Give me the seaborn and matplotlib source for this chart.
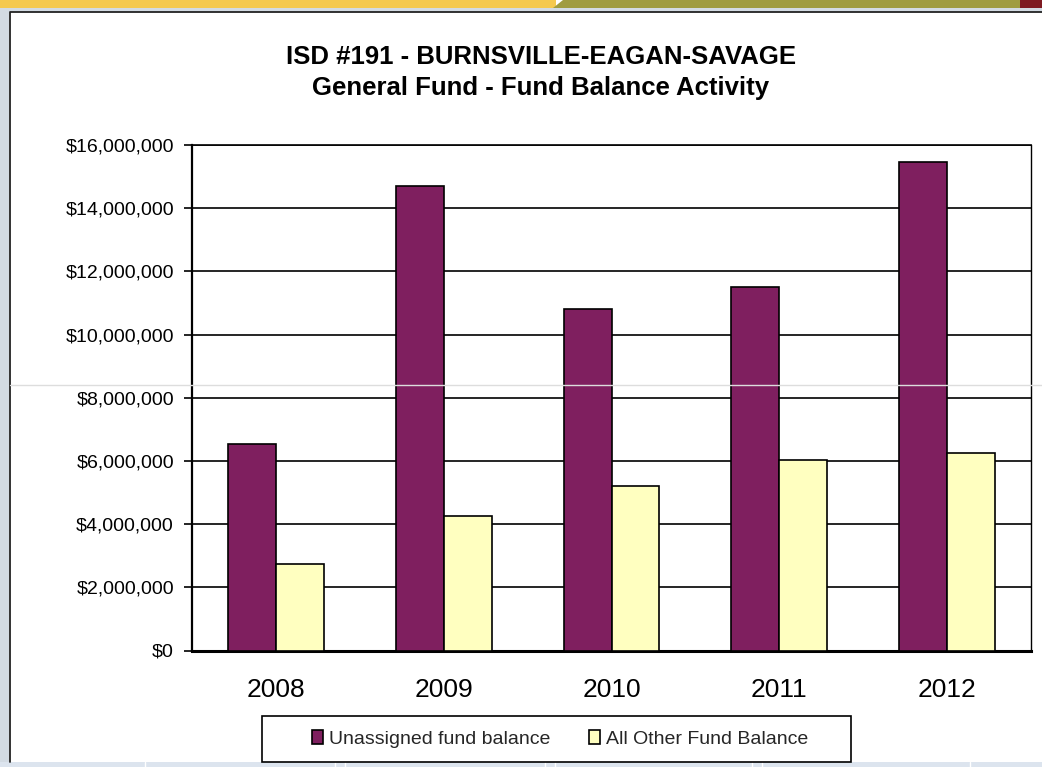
import numpy as np
import pandas as pd
import matplotlib.pyplot as plt
import seaborn as sns
from matplotlib.patches import Rectangle, Polygon, Patch
from matplotlib.lines import Line2D
from matplotlib.ticker import FuncFormatter, FixedLocator

# Data
years = ['2008', '2009', '2010', '2011', '2012']
unassigned = [6.53e6, 14.71e6, 10.81e6, 11.51e6, 15.47e6]
all_other = [2.74e6, 4.27e6, 5.22e6, 6.04e6, 6.25e6]
series_names = ['Unassigned fund balance', 'All Other Fund Balance']
colors = ['#7F1F5F', '#FFFFC0']
y_ticks = [0, 2e6, 4e6, 6e6, 8e6, 10e6, 12e6, 14e6, 16e6]

df = pd.DataFrame({
    'Year': years * 2,
    'Balance': unassigned + all_other,
    'Series': [series_names[0]] * len(years) + [series_names[1]] * len(years),
})

sns.set_theme(style='white')
plt.rcParams['font.family'] = ['Liberation Sans', 'DejaVu Sans']

W, H = 1042, 767
fig = plt.figure(figsize=(W / 100, H / 100), dpi=100)
fig.patch.set_facecolor('white')


def fx(px):
    return px / W


def fy(py):
    return 1 - py / H


# slide background pieces around the chart frame
fig.add_artist(Rectangle((0, fy(8)), fx(556), 8 / H, transform=fig.transFigure,
                         color='#F5C94E', lw=0))
fig.add_artist(Polygon([(fx(553), fy(8)), (fx(563), 1), (fx(1020), 1), (fx(1020), fy(8))],
                       closed=True, transform=fig.transFigure, color='#A09C40', lw=0))
fig.add_artist(Rectangle((fx(1020), fy(8)), fx(22), 8 / H, transform=fig.transFigure,
                         color='#7E1A22', lw=0))
fig.add_artist(Rectangle((0, fy(12)), fx(W), 4 / H, transform=fig.transFigure,
                         color='#D3DBE3', lw=0))
fig.add_artist(Rectangle((0, 0), fx(9), fy(8), transform=fig.transFigure,
                         color='#D3DBE3', lw=0))
fig.add_artist(Rectangle((0, 0), 1, 5 / H, transform=fig.transFigure,
                         color='#DCE4EE', lw=0))
for xb in [145, 335, 345, 545, 555, 752, 762, 970]:
    fig.add_artist(Line2D([fx(xb), fx(xb)], [0, 5 / H], transform=fig.transFigure,
                          color='white', lw=1))
# chart frame
fig.add_artist(Line2D([fx(10), fx(10), 1], [5 / H, fy(12), fy(12)],
                      transform=fig.transFigure, color='#222222', lw=1.3))

ax = fig.add_axes([fx(192), fy(650.5), (1031 - 192) / W, (650.5 - 145) / H])
sns.barplot(data=df, x='Year', y='Balance', hue='Series', hue_order=series_names,
            palette=colors, saturation=1, width=0.572, gap=0, edgecolor='black',
            linewidth=1.2, legend=False, ax=ax, zorder=3)

ax.set_ylim(0, 16e6)
ax.set_xlim(-0.5, len(years) - 0.5)
ax.yaxis.set_major_locator(FixedLocator(y_ticks))
ax.yaxis.set_major_formatter(FuncFormatter(lambda v, p: '${:,.0f}'.format(v)))
ax.yaxis.grid(True, color='black', lw=1.2)
ax.set_axisbelow(True)
ax.set_xlabel('')
ax.set_ylabel('')

ax.set_xticks(range(len(years)))
ax.set_xticklabels(years)
ax.set_xticks(np.arange(-0.5, len(years), 1.0), minor=True)
ax.tick_params(axis='x', which='major', length=0, pad=20, labelsize=19, labelcolor='black')
ax.tick_params(axis='x', which='minor', length=7, width=1.2, color='black', direction='out')
ax.tick_params(axis='y', length=6, width=1.2, color='black', direction='out',
               pad=7, labelsize=14, labelcolor='black', left=True)

for side in ['left', 'right', 'top', 'bottom']:
    ax.spines[side].set_visible(True)
    ax.spines[side].set_color('black')
ax.spines['left'].set_linewidth(1.6)
ax.spines['bottom'].set_linewidth(2.2)
ax.spines['top'].set_linewidth(1.2)
ax.spines['right'].set_linewidth(1.0)

# titles
fig.text(fx(541), fy(64), 'ISD #191 - BURNSVILLE-EAGAN-SAVAGE', ha='center',
         va='baseline', fontsize=18.5, fontweight='bold', color='black')
fig.text(fx(541), fy(95), 'General Fund - Fund Balance Activity', ha='center',
         va='baseline', fontsize=18.5, fontweight='bold', color='black')

# legend with its own box
fig.add_artist(Rectangle((fx(262), fy(762)), (851 - 262) / W, (762 - 716) / H,
                         transform=fig.transFigure, facecolor='white',
                         edgecolor='black', lw=1.2, zorder=5))
handles = [Patch(facecolor=c, edgecolor='black', lw=1.2) for c in colors]
leg = fig.legend(handles, series_names, loc='center', bbox_to_anchor=(fx(560), fy(739)),
                 ncol=2, frameon=False, fontsize=14, handlelength=0.55, handleheight=0.7,
                 handletextpad=0.3, columnspacing=2.0)
leg.set_zorder(6)

# faint stray line crossing the slide
fig.add_artist(Line2D([fx(10), 1], [fy(385), fy(385)], transform=fig.transFigure,
                      color='#DDDDDD', lw=1, zorder=10))

fig.savefig('out.png', dpi=100)
